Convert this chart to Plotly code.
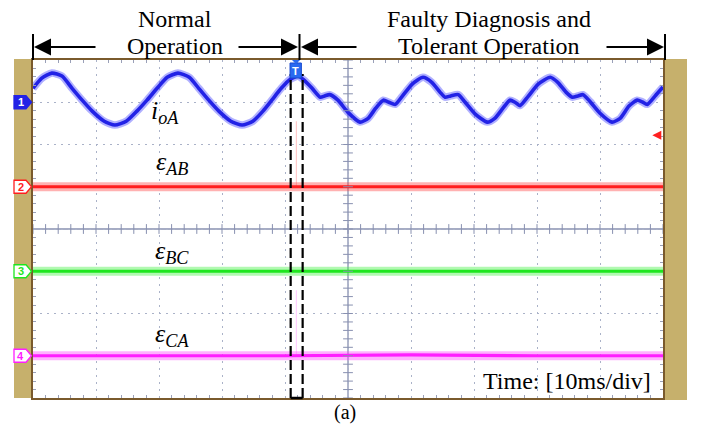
import plotly.graph_objects as go

# ---------------- data ----------------
# time in ms (10 ms/div, 10 divisions), amplitudes in divisions
t_ioa = [0.0, 1.4, 3.0, 4.6, 6.2, 7.8, 9.4, 11.3, 13.0, 14.8, 16.5, 18.1, 19.7, 21.3,
         23.0, 24.8, 26.3, 27.9, 29.5, 31.4, 33.2, 34.9, 36.5, 37.9, 39.4, 40.8, 42.1,
         42.9, 44.3, 45.6, 46.3, 47.1, 48.4, 50.0, 51.9, 53.2, 54.4, 55.6, 56.5, 57.5,
         58.6, 60.2, 61.9, 63.3, 64.6, 65.4, 66.3, 67.5, 68.6, 70.2, 72.1, 73.3, 74.6,
         75.7, 76.5, 77.3, 78.6, 80.2, 82.1, 83.3, 84.6, 85.6, 86.5, 87.3, 88.4, 90.0,
         91.9, 93.2, 94.6, 95.9, 96.7, 97.5, 98.7, 100.0]
ioa = [0.33, 0.57, 0.69, 0.62, 0.33, 0.05, -0.21, -0.45, -0.54, -0.45, -0.21, 0.05, 0.33, 0.59,
       0.69, 0.59, 0.33, 0.05, -0.21, -0.45, -0.54, -0.45, -0.21, 0.05, 0.33, 0.54, 0.62,
       0.54, 0.33, 0.12, 0.15, 0.18, 0.05, -0.24, -0.47, -0.38, -0.14, 0.05, 0.0, -0.05,
       0.14, 0.43, 0.59, 0.47, 0.24, 0.12, 0.15, 0.18, 0.00, -0.28, -0.47, -0.38, -0.14,
       0.05, 0.0, -0.08, 0.14, 0.43, 0.59, 0.47, 0.24, 0.12, 0.15, 0.18, 0.02, -0.26,
       -0.47, -0.38, -0.09, 0.05, 0.01, -0.05, 0.14, 0.36]

t_err = [0.0, 20.0, 40.0, 60.0, 80.0, 100.0]
eps_ab = [0.0, 0.0, 0.0, 0.0, 0.0, 0.0]
eps_bc = [0.0, 0.0, 0.0, 0.0, 0.0, 0.0]
eps_ca = [0.0, 0.0, 0.0, 0.02, 0.0, 0.0]

# fault transient spikes (ms, divisions above the trace)
t_spike = [41.8, 41.8]
spike_ab = [0.0, 1.55]
spike_ca = [0.0, 1.55]

channel_names = ["1", "2", "3", "4"]
channel_offsets = [3, 1, -1, -3]          # trace ground levels in divisions
channel_colors = ["#2222e6", "#ff1e1e", "#1ee61e", "#ff1eff"]
channel_halo = ["rgba(80,80,255,0.45)", "rgba(255,60,60,0.40)",
                "rgba(60,240,60,0.40)", "rgba(255,60,255,0.40)"]
labels = ["<i>i</i><sub><i>oA</i></sub>", "<i>ε</i><sub><i>AB</i></sub>",
          "<i>ε</i><sub><i>BC</i></sub>", "<i>ε</i><sub><i>CA</i></sub>"]
label_pos = [(21.0, 2.77), (22.0, 1.56), (22.0, -0.54), (22.0, -2.51)]

fault_window_ms = [40.9, 42.8]
trigger_ms = 41.7
trigger_level = 2.22

# ---------------- layout helpers (pixel -> paper) ----------------
W, H = 703, 432
L, R, T, B = 33, 40, 60, 34
PW, PH = W - L - R, H - T - B


def xp(px):
    return (px - L) / PW


def yp(py):
    return (H - B - py) / PH


SERIF = "Liberation Serif"
GRID = "#aab2c8"
FRAME = "#7a5a2c"
TAN = "#c6b06c"

fig = go.Figure()

series = [(t_ioa, ioa), (t_err, eps_ab), (t_err, eps_bc), (t_err, eps_ca)]

# transient spikes
for sp, off, col in [(spike_ab, channel_offsets[1], "rgba(255,150,150,0.6)"),
                     (spike_ca, channel_offsets[3], "rgba(255,160,255,0.6)")]:
    fig.add_trace(go.Scatter(x=t_spike, y=[off + v for v in sp], mode="lines",
                             line=dict(color=col, width=1), hoverinfo="skip",
                             showlegend=False))

for (tx, vy), off, col, halo in zip(series, channel_offsets, channel_colors, channel_halo):
    yy = [off + v for v in vy]
    is_ioa = tx is t_ioa
    ln_halo = dict(color=halo, width=7.5 if is_ioa else 9)
    ln_core = dict(color=col, width=3.6 if is_ioa else 3.2)
    if is_ioa:
        ln_halo.update(shape="spline", smoothing=0.6)
        ln_core.update(shape="spline", smoothing=0.6)
    fig.add_trace(go.Scatter(x=tx, y=yy, mode="lines", line=ln_halo,
                             hoverinfo="skip", showlegend=False))
    fig.add_trace(go.Scatter(x=tx, y=yy, mode="lines", line=ln_core,
                             hoverinfo="skip", showlegend=False))

# center cross tick marks
xt = [i * 2.0 for i in range(51)]
yt = [-4 + i * 0.2 for i in range(41)]
fig.add_trace(go.Scatter(x=xt, y=[0] * len(xt), mode="markers",
                         marker=dict(symbol="line-ns", size=7,
                                     line=dict(color="#8890b0", width=1)),
                         hoverinfo="skip", showlegend=False))
fig.add_trace(go.Scatter(x=[50] * len(yt), y=yt, mode="markers",
                         marker=dict(symbol="line-ew", size=7,
                                     line=dict(color="#8890b0", width=1)),
                         hoverinfo="skip", showlegend=False))

shapes = []
# tan side bars
shapes.append(dict(type="rect", xref="paper", yref="paper", x0=xp(14), x1=xp(32),
                   y0=yp(398), y1=yp(59), fillcolor=TAN, line=dict(width=0), layer="below"))
shapes.append(dict(type="rect", xref="paper", yref="paper", x0=xp(664), x1=xp(687),
                   y0=yp(400), y1=yp(59), fillcolor=TAN, line=dict(width=0), layer="below"))
# center cross
shapes.append(dict(type="line", xref="x", yref="y", x0=0, x1=100, y0=0, y1=0,
                   line=dict(color="#8890b0", width=1.3), layer="below"))
shapes.append(dict(type="line", xref="x", yref="y", x0=50, x1=50, y0=-4, y1=4,
                   line=dict(color="#8890b0", width=1.3), layer="below"))
# dashed fault window
for xv in fault_window_ms:
    shapes.append(dict(type="line", xref="x", yref="paper", x0=xv, x1=xv,
                       y0=0, y1=yp(74), line=dict(color="black", width=2.2, dash="10px,4px")))
shapes.append(dict(type="line", xref="x", yref="paper", x0=fault_window_ms[0],
                   x1=fault_window_ms[1], y0=0, y1=0, line=dict(color="black", width=2.5)))
# vertical bracket ticks above the screen
for px_ in [33, 299.5, 665]:
    shapes.append(dict(type="line", xref="paper", yref="paper", x0=xp(px_), x1=xp(px_),
                       y0=yp(60), y1=yp(34), line=dict(color="black", width=2)))

# channel tags on the left bar
for name, off, col in zip(channel_names, channel_offsets, channel_colors):
    yc = (off + 4) / 8.0
    h = 6.5 / PH
    x0, x1, x2 = xp(14), xp(26), xp(31.5)
    path = (f"M {x0},{yc - h} L {x1},{yc - h} L {x2},{yc} L {x1},{yc + h} "
            f"L {x0},{yc + h} Z")
    filled = name == "1"
    shapes.append(dict(type="path", xref="paper", yref="paper", path=path,
                       fillcolor=col if filled else "white",
                       line=dict(color=col, width=1.3)))

# trigger T marker
shapes.append(dict(type="rect", xref="x", yref="paper",
                   x0=trigger_ms - 0.9, x1=trigger_ms + 0.9, y0=yp(78), y1=yp(63),
                   fillcolor="#2a6af0", line=dict(color="#1a4ad0", width=1)))
shapes.append(dict(type="path", xref="paper", yref="paper",
                   path=f"M {xp(292)},{yp(60)} L {xp(300)},{yp(60)} L {xp(296)},{yp(64)} Z",
                   fillcolor="#2a6af0", line=dict(width=0)))

annotations = []
for name, off, col in zip(channel_names, channel_offsets, channel_colors):
    annotations.append(dict(xref="paper", yref="paper", x=xp(20.5), y=(off + 4) / 8.0,
                            xanchor="center", yanchor="middle",
                            text=f"<b>{name}</b>", showarrow=False,
                            font=dict(family="Arial", size=11,
                                      color="white" if name == "1" else col)))
annotations.append(dict(xref="x", yref="paper", x=trigger_ms, y=yp(70.5), text="<b>T</b>",
                        xanchor="center", yanchor="middle",
                        showarrow=False, font=dict(family="Arial", size=11, color="white")))

for lab, (lx, ly) in zip(labels, label_pos):
    annotations.append(dict(xref="x", yref="y", x=lx, y=ly, text=lab, showarrow=False,
                            xanchor="center", yanchor="middle",
                            font=dict(family=SERIF, size=26, color="black")))

# header texts
for txt, cx, cy in [("Normal", 175, 19), ("Operation", 175, 46),
                    ("Faulty Diagnosis and", 489, 19), ("Tolerant Operation", 489, 46)]:
    annotations.append(dict(xref="paper", yref="paper", x=xp(cx), y=yp(cy), text=txt,
                            xanchor="center", yanchor="middle",
                            showarrow=False, font=dict(family=SERIF, size=24, color="black")))

# bracket arrows (head x, tail x)
for hx, tx_ in [(34, 97), (298, 237), (301, 358), (664, 605)]:
    annotations.append(dict(xref="paper", yref="paper", x=xp(hx), y=yp(47),
                            ax=tx_ - hx, ay=0, axref="pixel", ayref="pixel", text="",
                            showarrow=True, arrowhead=2, arrowsize=1.7, arrowwidth=2,
                            arrowcolor="black", standoff=0))

# trigger level arrow (red)
annotations.append(dict(xref="x", yref="y", x=98.3, y=trigger_level, ax=10, ay=0,
                        text="", showarrow=True, arrowhead=2, arrowsize=1, arrowwidth=1.8,
                        arrowcolor="#ff2020", standoff=0))

annotations.append(dict(xref="paper", yref="paper", x=xp(567), y=yp(381),
                        xanchor="center", yanchor="middle",
                        text="Time: [10ms/div]", showarrow=False,
                        font=dict(family=SERIF, size=24, color="black")))
annotations.append(dict(xref="paper", yref="paper", x=xp(345), y=yp(413), text="(a)",
                        xanchor="center", yanchor="middle",
                        showarrow=False, font=dict(family=SERIF, size=20, color="black")))

fig.update_layout(
    width=W, height=H,
    margin=dict(l=L, r=R, t=T, b=B, pad=0),
    paper_bgcolor="white", plot_bgcolor="white",
    showlegend=False,
    shapes=shapes, annotations=annotations,
    xaxis=dict(range=[0, 100], dtick=10, showgrid=True, gridcolor=GRID, griddash="2px,5px",
               gridwidth=1, zeroline=False, showticklabels=False,
               showline=True, linecolor=FRAME, linewidth=1.5, mirror="ticks",
               ticks="inside", ticklen=0,
               minor=dict(dtick=2, ticks="inside", ticklen=3, tickcolor="#9aa0b8",
                          showgrid=False)),
    yaxis=dict(range=[-4, 4], dtick=1, showgrid=True, gridcolor=GRID, griddash="2px,5px",
               gridwidth=1, zeroline=False, showticklabels=False,
               showline=True, linecolor=FRAME, linewidth=1.5, mirror="ticks",
               ticks="inside", ticklen=0,
               minor=dict(dtick=0.2, ticks="inside", ticklen=3, tickcolor="#9aa0b8",
                          showgrid=False)),
)

fig.write_html("out.html")
